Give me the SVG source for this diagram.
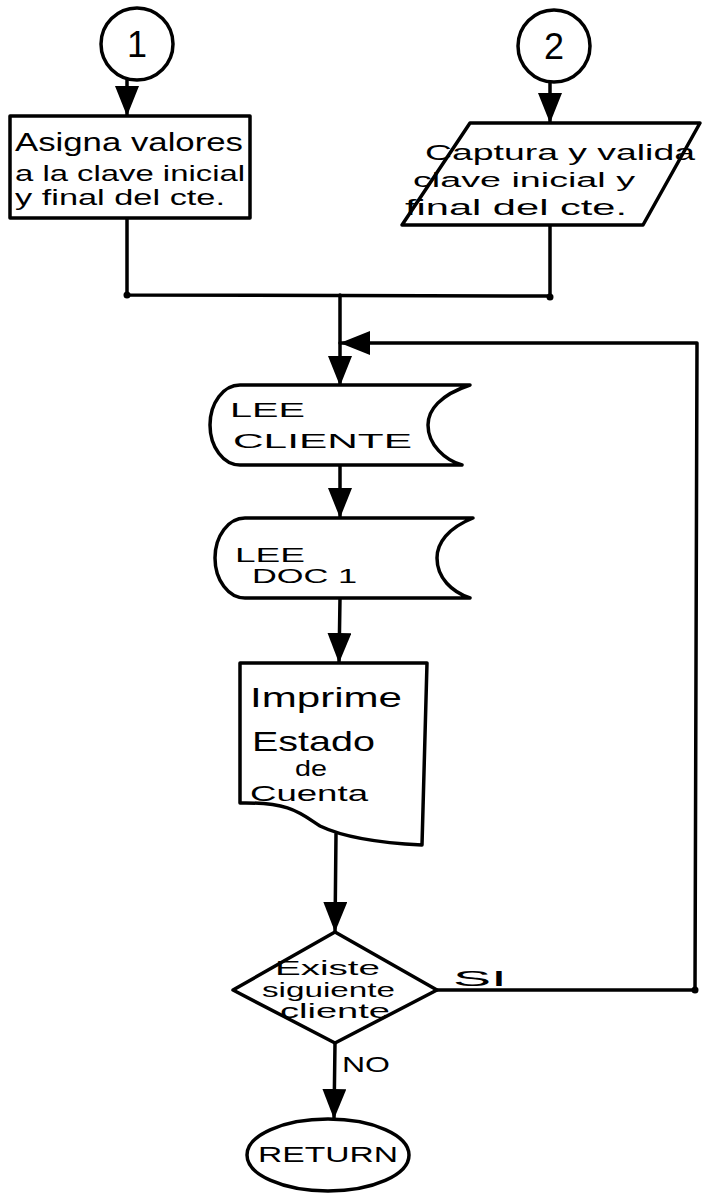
<svg xmlns="http://www.w3.org/2000/svg" width="702" height="1193" viewBox="0 0 702 1193">
<style>
.s{fill:#fff;stroke:#000;stroke-width:3.5;stroke-linejoin:round}
.c{fill:none;stroke:#000;stroke-width:3.5;stroke-linecap:round;stroke-linejoin:round}
.t{font-family:"Liberation Sans",Arial,sans-serif;fill:#000}
.dot{fill:#000}
</style>
<defs>
<marker id="ah" markerUnits="userSpaceOnUse" markerWidth="32" markerHeight="26" refX="30" refY="12" orient="auto">
<path d="M0,0 L30,12 L0,24 Z" fill="#000"/>
</marker>
</defs>
<rect width="702" height="1193" fill="#fff"/>
<g id="connectors">
<path class="c" d="M127,80 L127,116" marker-end="url(#ah)"/>
<path class="c" d="M550,82 L550,123" marker-end="url(#ah)"/>
<path class="c" d="M127,218 L127,295 L550,296 L550,225"/>
<path class="c" d="M340,295 L340,386" marker-end="url(#ah)"/>
<path class="c" d="M437,990 L695,990 L697,343 L340,343" marker-end="url(#ah)"/>
<path class="c" d="M340,465 L340,518" marker-end="url(#ah)"/>
<path class="c" d="M340,598 L339,663" marker-end="url(#ah)"/>
<path class="c" d="M336,834 L335,932" marker-end="url(#ah)"/>
<path class="c" d="M335,1043 L334,1119" marker-end="url(#ah)"/>
<circle class="dot" cx="127" cy="295" r="3.5"/>
<circle class="dot" cx="550" cy="297" r="3.5"/>
<circle class="dot" cx="695" cy="990" r="3.5"/>
<text class="t" x="453" y="986" font-size="22" textLength="54" lengthAdjust="spacingAndGlyphs">SI</text>
<text class="t" x="342" y="1072" font-size="22" textLength="48" lengthAdjust="spacingAndGlyphs">NO</text>
</g>
<g id="c1">
<circle class="s" cx="137" cy="44" r="36"/>
<text class="t" x="137" y="57" font-size="36" text-anchor="middle">1</text>
</g>
<g id="c2">
<circle class="s" cx="554" cy="46" r="36"/>
<text class="t" x="554" y="59" font-size="36" text-anchor="middle">2</text>
</g>
<g id="asigna">
<rect class="s" x="10" y="116" width="240" height="102"/>
<text class="t" x="15" y="151" font-size="26" textLength="228" lengthAdjust="spacingAndGlyphs">Asigna valores</text>
<text class="t" x="15" y="181" font-size="22" textLength="230" lengthAdjust="spacingAndGlyphs">a la clave inicial</text>
<text class="t" x="15" y="205" font-size="22" textLength="210" lengthAdjust="spacingAndGlyphs">y final del cte.</text>
</g>
<g id="captura">
<polygon class="s" points="470,123 700,123 643,225 402,225"/>
<text class="t" x="425" y="160" font-size="22" textLength="270" lengthAdjust="spacingAndGlyphs">Captura y valida</text>
<text class="t" x="413" y="187" font-size="20" textLength="222" lengthAdjust="spacingAndGlyphs">clave inicial y</text>
<text class="t" x="405" y="215" font-size="22" textLength="222" lengthAdjust="spacingAndGlyphs">final del cte.</text>
</g>
<g id="leecliente">
<path class="s" d="M240,385 L470,385 C440,395 428,410 428,425 C428,445 445,460 462,465 L240,465 A30,40 0 0 1 240,385 Z"/>
<text class="t" x="230" y="417" font-size="20" textLength="75" lengthAdjust="spacingAndGlyphs">LEE</text>
<text class="t" x="233" y="448" font-size="20" textLength="179" lengthAdjust="spacingAndGlyphs">CLIENTE</text>
</g>
<g id="leedoc">
<path class="s" d="M245,518 L473,518 C448,528 437,543 437,558 C437,578 452,592 470,598 L245,598 A30,40 0 0 1 245,518 Z"/>
<text class="t" x="235" y="562" font-size="20" textLength="70" lengthAdjust="spacingAndGlyphs">LEE</text>
<text class="t" x="252" y="583" font-size="20" textLength="105" lengthAdjust="spacingAndGlyphs">DOC 1</text>
</g>
<g id="imprime">
<path class="s" d="M240,663 L427,663 L422,845 C380,843 345,838 320,826 C300,813 290,802 240,803 Z"/>
<text class="t" x="250" y="707" font-size="28" textLength="152" lengthAdjust="spacingAndGlyphs">Imprime</text>
<text class="t" x="252" y="751" font-size="28" textLength="123" lengthAdjust="spacingAndGlyphs">Estado</text>
<text class="t" x="295" y="776" font-size="22" textLength="32" lengthAdjust="spacingAndGlyphs">de</text>
<text class="t" x="250" y="801" font-size="22" textLength="118" lengthAdjust="spacingAndGlyphs">Cuenta</text>
</g>
<g id="existe">
<polygon class="s" points="335,932 437,990 335,1043 233,990"/>
<text class="t" x="275" y="975" font-size="20" textLength="105" lengthAdjust="spacingAndGlyphs">Existe</text>
<text class="t" x="262" y="997" font-size="20" textLength="133" lengthAdjust="spacingAndGlyphs">siguiente</text>
<text class="t" x="280" y="1018" font-size="20" textLength="110" lengthAdjust="spacingAndGlyphs">cliente</text>
</g>
<g id="return">
<ellipse class="s" cx="328" cy="1155" rx="81" ry="36"/>
<text class="t" x="258" y="1162" font-size="22" textLength="140" lengthAdjust="spacingAndGlyphs">RETURN</text>
</g>
</svg>
